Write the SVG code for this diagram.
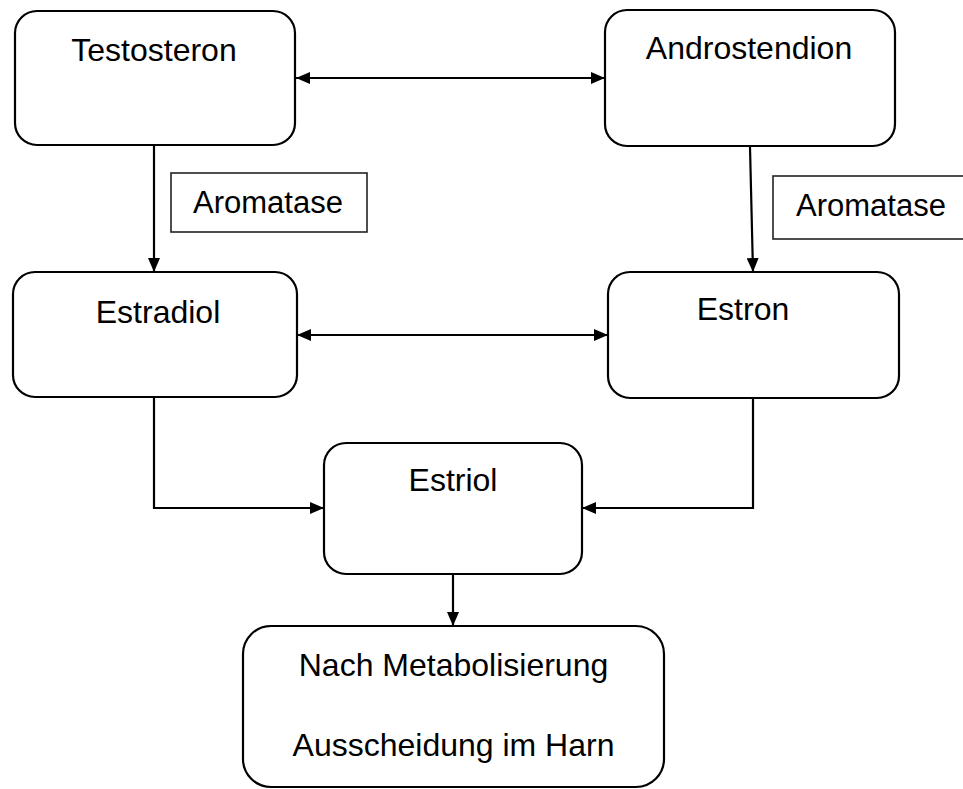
<svg xmlns="http://www.w3.org/2000/svg" width="963" height="789" viewBox="0 0 963 789">
<defs>
<style>
.node{fill:#fff;stroke:#000;stroke-width:2.2}
.lab{fill:#fff;stroke:#222;stroke-width:1.6}
.t{font-family:"Liberation Sans",Arial,sans-serif;font-size:32px;fill:#000;text-anchor:middle}
.c{fill:none;stroke:#000;stroke-width:2.2}
</style>
<marker id="ah" viewBox="0 0 14 12" refX="14" refY="6" markerWidth="14" markerHeight="12" markerUnits="userSpaceOnUse" orient="auto-start-reverse">
<path d="M0,0 L14,6 L0,12 Z" fill="#000"/>
</marker>
</defs>
<rect width="963" height="789" fill="#fff"/>
<g id="connectors">
<line class="c" x1="296" y1="78" x2="605" y2="78" marker-start="url(#ah)" marker-end="url(#ah)"/>
<line class="c" x1="297" y1="335" x2="608" y2="335" marker-start="url(#ah)" marker-end="url(#ah)"/>
<line class="c" x1="154" y1="146" x2="154" y2="272" marker-end="url(#ah)"/>
<line class="c" x1="750" y1="147" x2="753" y2="272" marker-end="url(#ah)"/>
<polyline class="c" points="154,398 154,508 324,508" marker-end="url(#ah)"/>
<polyline class="c" points="753,399 753,508 582,508" marker-end="url(#ah)"/>
<line class="c" x1="453" y1="575" x2="453" y2="626" marker-end="url(#ah)"/>
</g>
<g id="testosteron">
<rect class="node" x="15" y="11" width="280" height="134" rx="22"/>
<text class="t" x="154" y="61">Testosteron</text>
</g>
<g id="androstendion">
<rect class="node" x="605" y="10" width="290" height="136" rx="22"/>
<text class="t" x="749" y="59">Androstendion</text>
</g>
<g id="aromatase-left">
<rect class="lab" x="171" y="173" width="196" height="59"/>
<text class="t" x="268" y="213" style="font-size:31px">Aromatase</text>
</g>
<g id="aromatase-right">
<rect class="lab" x="773" y="176" width="200" height="63"/>
<text class="t" x="871" y="216" style="font-size:31px">Aromatase</text>
</g>
<g id="estradiol">
<rect class="node" x="13" y="272" width="284" height="125" rx="22"/>
<text class="t" x="158" y="323">Estradiol</text>
</g>
<g id="estron">
<rect class="node" x="608" y="272" width="291" height="126" rx="22"/>
<text class="t" x="743" y="320">Estron</text>
</g>
<g id="estriol">
<rect class="node" x="324" y="443" width="258" height="131" rx="22"/>
<text class="t" x="453" y="491">Estriol</text>
</g>
<g id="ausscheidung">
<rect class="node" x="243" y="626" width="421" height="161" rx="28"/>
<text class="t" x="453.5" y="676">Nach Metabolisierung</text>
<text class="t" x="453.5" y="756">Ausscheidung im Harn</text>
</g>
</svg>
